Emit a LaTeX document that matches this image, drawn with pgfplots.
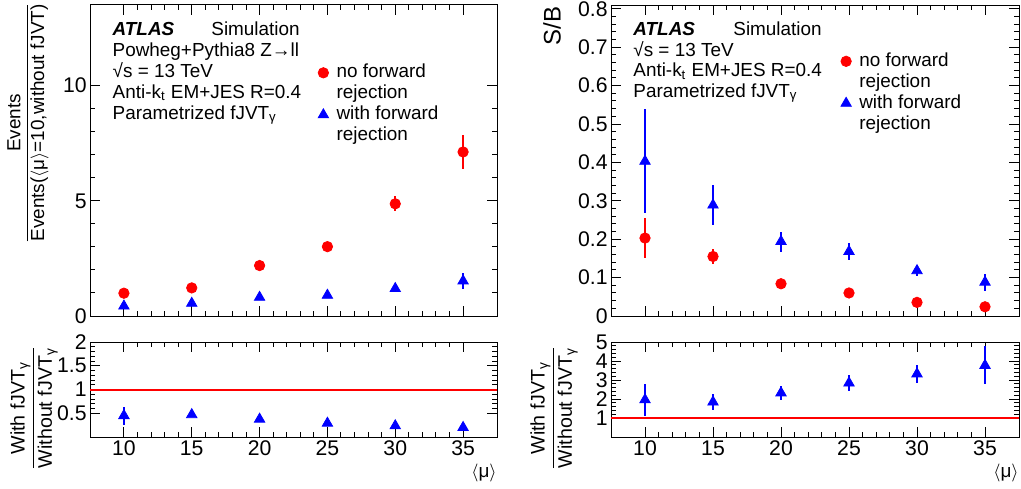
\documentclass[border=0pt]{standalone}
\usepackage{amsmath}
\usepackage{fontspec}
\setmainfont{Liberation Sans}
\usepackage{pgfplots}
\usepackage{pgfplotstable}
\pgfplotsset{compat=1.18}

\newcommand{\txt}{\fontsize{9.45}{11}\selectfont}
\newcommand{\tck}{\fontsize{10.6}{12}\selectfont}
\newcommand{\mean}{$\langle$μ$\rangle$}

% events normalised to <mu>=10 without fJVT
\pgfplotstableread{
x  y     e
10 0.99  0.12
15 1.22  0.08
20 2.19  0.06
25 3.01  0.08
30 4.87  0.32
35 7.12  0.74
}\lred
\pgfplotstableread{
x  y     e
10 0.43  0.10
15 0.55  0.06
20 0.81  0.06
25 0.90  0.08
30 1.19  0.10
35 1.52  0.35
}\lblue
\pgfplotstableread{
x  y     e
10 0.45  0.19
15 0.47  0.04
20 0.375 0.03
25 0.29  0.03
30 0.236 0.02
35 0.20  0.03
}\lratio
% S/B
\pgfplotstableread{
x  y      e
10 0.203  0.053
15 0.155  0.020
20 0.084  0.006
25 0.060  0.005
30 0.0355 0.004
35 0.024  0.004
}\rred
\pgfplotstableread{
x  y      e
10 0.403  0.135
15 0.289  0.053
20 0.194  0.026
25 0.168  0.021
30 0.118  0.015
35 0.088  0.022
}\rblue
\pgfplotstableread{
x  y     e
10 1.96  0.85
15 1.84  0.42
20 2.32  0.38
25 2.84  0.41
30 3.32  0.49
35 3.77  1.00
}\rratio

\pgfplotsset{
  atlas/.style={
    scale only axis, anchor=south west,
    xmin=7.5, xmax=37.5,
    xtick={10,15,20,25,30,35}, minor x tick num=4,
    tick align=inside, tick pos=both,
    major tick length=5pt, minor tick length=2.5pt,
    axis line style={line width=0.5pt},
    every tick/.style={black, line width=0.5pt},
    ticklabel style={font=\tck},
    /pgf/number format/assume math mode=true,
    xticklabel style={inner sep=1.7pt},
    yticklabel style={inner sep=1.5pt},
    legend cell align=left,
    legend image code/.code={\draw[mark repeat=2,mark phase=2,##1] plot coordinates {(0pt,0pt)(4pt,0pt)(8pt,0pt)};},
  },
  redpts/.style={red, only marks, mark=*, mark size=2.6pt,
    error bars/.cd, y dir=both, y explicit, error mark=none,
    error bar style={line width=0.8pt, red}},
  bluepts/.style={blue, only marks, mark=triangle*, mark size=3pt,
    error bars/.cd, y dir=both, y explicit, error mark=none,
    error bar style={line width=0.8pt, blue}},
  leg/.style={legend style={draw=none, fill=none, at={#1}, anchor=north west,
    font=\txt, row sep=1.5pt, column sep=4pt,
    nodes={inner sep=0pt, text height=7pt, text depth=2pt}}},
}

\begin{document}
\begin{tikzpicture}
\useasboundingbox (0,0) rectangle (510.5pt,244pt);

% left, top
\begin{axis}[atlas, at={(45pt,86pt)}, width=203.5pt, height=155.5pt,
  ymin=0, ymax=13.5, ytick={0,5,10}, minor y tick num=4, xticklabels={},
  leg={(0.538,0.825)}]
\addplot[redpts] table[x=x,y=y,y error=e] {\lred};
\addlegendentry{no forward}
\addlegendimage{empty legend}
\addlegendentry{rejection}
\addplot[bluepts] table[x=x,y=y,y error=e] {\lblue};
\addlegendentry{with forward}
\addlegendimage{empty legend}
\addlegendentry{rejection}
\end{axis}

% left, ratio
\begin{axis}[atlas, at={(45pt,25.5pt)}, width=203.5pt, height=47.5pt,
  ymin=0, ymax=2, ytick={0.5,1,1.5,2}, minor y tick num=4]
\addplot[red, line width=1pt] coordinates {(7.5,1) (37.5,1)};
\addplot[bluepts] table[x=x,y=y,y error=e] {\lratio};
\end{axis}

% right, top
\begin{axis}[atlas, at={(305.5pt,86pt)}, width=204pt, height=155.5pt,
  ymin=0, ymax=0.81, ytick={0,0.1,0.2,0.3,0.4,0.5,0.6,0.7,0.8},
  minor y tick num=4, xticklabels={},
  leg={(0.541,0.862)}]
\addplot[redpts] table[x=x,y=y,y error=e] {\rred};
\addlegendentry{no forward}
\addlegendimage{empty legend}
\addlegendentry{rejection}
\addplot[bluepts] table[x=x,y=y,y error=e] {\rblue};
\addlegendentry{with forward}
\addlegendimage{empty legend}
\addlegendentry{rejection}
\end{axis}

% right, ratio
\begin{axis}[atlas, at={(305.5pt,25.5pt)}, width=204pt, height=47.5pt,
  ymin=0, ymax=5, ytick={1,2,3,4,5}, minor y tick num=4]
\addplot[red, line width=1pt] coordinates {(7.5,1) (37.5,1)};
\addplot[bluepts] table[x=x,y=y,y error=e] {\rratio};
\end{axis}

% labels
\node[rotate=90, font=\txt] at (14pt,182.5pt)
  {$\dfrac{\text{Events}}{\text{Events(\mean=10,without fJVT)}}$};
\node[rotate=90, font=\fontsize{9.8}{11}\selectfont] at (17pt,40pt)
  {$\dfrac{\text{With fJVT\textsubscript{γ}}}{\text{Without fJVT\textsubscript{γ}}}$};
\node[rotate=90, font=\fontsize{9.8}{11}\selectfont] at (277pt,40pt)
  {$\dfrac{\text{With fJVT\textsubscript{γ}}}{\text{Without fJVT\textsubscript{γ}}}$};
\node[rotate=90, font=\fontsize{12}{14}\selectfont] at (276pt,231pt) {S/B};
\node[anchor=east, inner sep=0pt, font=\txt] at (248.5pt,7.65pt) {\mean};
\node[anchor=east, inner sep=0pt, font=\txt] at (509.5pt,7.65pt) {\mean};

% left text block
\begin{scope}[every node/.style={anchor=base west, inner sep=0pt, font=\txt}]
\node at (56.15pt,226pt) {\textbf{\textit{ATLAS}}};
\node at (105.5pt,226pt) {Simulation};
\node at (56.15pt,215.6pt) {Powheg+Pythia8 Z→ll};
\node at (56.15pt,205.2pt) {√s = 13 TeV};
\node at (56.15pt,194.8pt) {Anti-k\textsubscript{t} EM+JES R=0.4};
\node at (56.15pt,184.4pt) {Parametrized fJVT\textsubscript{γ}};
% right text block
\node at (316.5pt,226pt) {\textbf{\textit{ATLAS}}};
\node at (366.5pt,226pt) {Simulation};
\node at (316.5pt,215.65pt) {√s = 13 TeV};
\node at (316.5pt,205.5pt) {Anti-k\textsubscript{t} EM+JES R=0.4};
\node at (316.5pt,195.15pt) {Parametrized fJVT\textsubscript{γ}};
\end{scope}
\end{tikzpicture}
\end{document}
